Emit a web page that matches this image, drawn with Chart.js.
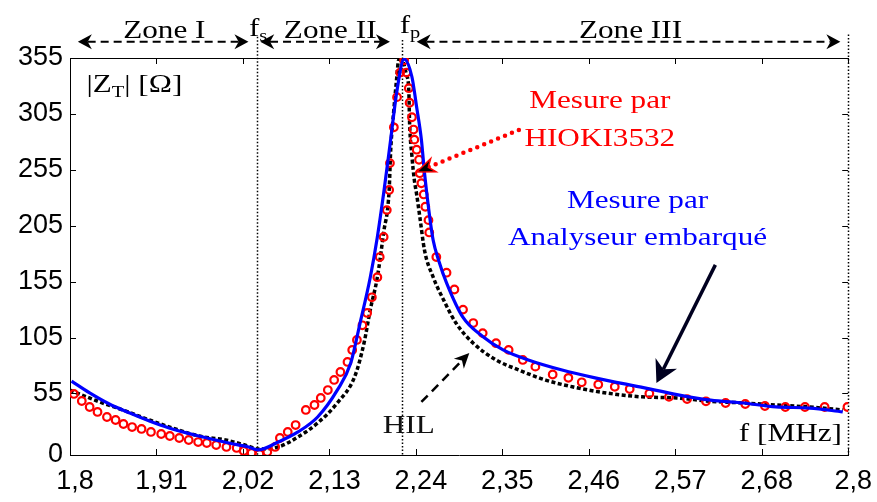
<!DOCTYPE html>
<html>
<head>
<meta charset="utf-8">
<script src="https://cdn.jsdelivr.net/npm/chart.js@4.4.0/dist/chart.umd.min.js"></script>
<style>
  html, body { margin: 0; padding: 0; background: #fff; }
  #wrap { width: 877px; height: 502px; position: relative; }
</style>
</head>
<body>
<div id="wrap"><canvas id="myChart"></canvas></div>
<script>
"use strict";

// ---- data (f in MHz, |Z_T| in ohm) ----
const xTicks = [1.8, 1.91, 2.02, 2.13, 2.24, 2.35, 2.46, 2.57, 2.68, 2.79];
const xTickLabels = ['1,8', '1,91', '2,02', '2,13', '2,24', '2,35', '2,46', '2,57', '2,68', '2,8'];
const yTicks = [0, 55, 105, 155, 205, 255, 305, 355];

const blueX = [1.802, 1.825, 1.850, 1.876, 1.901, 1.926, 1.964, 2.002, 2.027, 2.039,
    2.065, 2.090, 2.115, 2.140, 2.157, 2.169, 2.182, 2.191, 2.199, 2.207,
    2.216, 2.225, 2.235, 2.241, 2.247, 2.251, 2.257, 2.262, 2.269, 2.279,
    2.300, 2.325, 2.351, 2.383, 2.426, 2.468, 2.531, 2.572, 2.615, 2.657,
    2.698, 2.741, 2.783];
const blueY = [66, 55.5, 45.6, 37.6, 30.4, 24.2, 17, 10.7, 7.2, 4.5,
    11.6, 20.6, 34, 58, 82, 118, 159, 195, 234, 277,
    326, 354, 338, 311, 282, 252, 216, 192, 174, 154,
    123, 106, 94, 85, 76, 69, 60, 54, 49, 46.5,
    43, 42, 38.5];

const redX = [1.805, 1.815, 1.825, 1.835, 1.847, 1.858, 1.868, 1.879, 1.891, 1.903,
    1.916, 1.927, 1.939, 1.951, 1.963, 1.974, 1.986, 1.999, 2.012, 2.021,
    2.031, 2.041, 2.051, 2.061, 2.067, 2.077, 2.087, 2.100, 2.111, 2.119,
    2.128, 2.136, 2.144, 2.153, 2.159, 2.165, 2.172, 2.178, 2.184, 2.191,
    2.194, 2.199, 2.203, 2.206, 2.207, 2.212, 2.216, 2.220, 2.225, 2.228,
    2.231, 2.232, 2.235, 2.237, 2.238, 2.241, 2.244, 2.245, 2.247, 2.250,
    2.252, 2.256, 2.257, 2.266, 2.279, 2.289, 2.300, 2.313, 2.325, 2.342,
    2.358, 2.376, 2.392, 2.414, 2.434, 2.451, 2.472, 2.493, 2.512, 2.537,
    2.562, 2.585, 2.609, 2.634, 2.659, 2.684, 2.710, 2.735, 2.760, 2.789];
const redY = [54.6, 48.3, 42.9, 38.5, 34, 31.3, 27.7, 25, 23.3, 20.6,
    18.8, 17, 15.2, 13.4, 11.6, 10.7, 8.9, 7.2, 6.3, 3.6,
    1.8, 0.9, 2.7, 7.2, 15.2, 20.6, 26.8, 40.3, 44.7, 51,
    58.1, 67.1, 74.2, 83.2, 93.9, 102.9, 116, 127, 141, 159,
    177, 195, 219, 237, 261, 293, 320, 342, 353, 342,
    328, 315, 302, 291, 282, 273, 264, 252, 243, 233,
    222, 210, 199, 177, 163, 148, 130, 118, 109, 100,
    94, 85, 79, 72, 69, 65, 63, 61, 59, 55,
    52, 50, 48, 46.5, 45.6, 43.8, 42.9, 42.9, 42.9, 42.9];

const hilX = [1.800, 1.838, 1.867, 1.901, 1.930, 1.964, 1.998, 2.027, 2.039,
    2.065, 2.090, 2.115, 2.140, 2.162, 2.174, 2.182, 2.191, 2.199, 2.206,
    2.208, 2.212, 2.216, 2.218, 2.223, 2.228, 2.231, 2.232, 2.235, 2.238,
    2.241, 2.245, 2.251, 2.262, 2.275, 2.291, 2.313, 2.342, 2.371, 2.405,
    2.439, 2.477, 2.527, 2.572, 2.615, 2.657, 2.698, 2.741, 2.783];
const hilY = [58, 47.4, 40.3, 31.3, 24.2, 17, 13.4, 8, 5.4,
    7.2, 16.1, 28.6, 46.5, 69.8, 100, 130, 159, 199, 237,
    273, 309, 340, 353, 352, 340, 326, 297, 267, 246,
    233, 213, 183, 159, 139, 118, 100, 85, 76, 67,
    61, 56, 52, 51, 48, 46.5, 44.7, 42.9, 40.3];

const fs = 2.038;   // series resonance
const fp = 2.222;   // parallel resonance

const toPoints = (xs, ys) => xs.map((v, i) => ({ x: v, y: ys[i] }));

// ---- drawing helpers ----
const SERIF = '"Liberation Serif", "Times New Roman", serif';
const STRETCH = 1.2;

function rich(ctx, parts, x, y, color, align) {
    ctx.save();
    ctx.fillStyle = color;
    ctx.textBaseline = 'alphabetic';
    let w = 0;
    parts.forEach(p => { ctx.font = p[1] + 'px ' + SERIF; w += ctx.measureText(p[0]).width * STRETCH; });
    let cx = x;
    if (align === 'center') cx = x - w / 2;
    if (align === 'right') cx = x - w;
    parts.forEach(p => {
        ctx.font = p[1] + 'px ' + SERIF;
        ctx.save();
        ctx.translate(cx, y + (p[2] || 0));
        ctx.scale(STRETCH, 1);
        ctx.fillText(p[0], 0, 0);
        ctx.restore();
        cx += ctx.measureText(p[0]).width * STRETCH;
    });
    ctx.restore();
}

function head(ctx, x1, y1, x2, y2, len, wid, fill, stroke) {
    const ang = Math.atan2(y2 - y1, x2 - x1);
    ctx.save();
    ctx.translate(x2, y2);
    ctx.rotate(ang);
    ctx.setLineDash([]);
    ctx.beginPath();
    ctx.moveTo(0, 0);
    ctx.lineTo(-len, -wid / 2);
    ctx.lineTo(-len * 0.7, 0);
    ctx.lineTo(-len, wid / 2);
    ctx.closePath();
    ctx.fillStyle = fill;
    ctx.fill();
    if (stroke) { ctx.strokeStyle = stroke; ctx.lineWidth = 1.5; ctx.stroke(); }
    ctx.restore();
}

function arrow(ctx, x1, y1, x2, y2, o) {
    const ang = Math.atan2(y2 - y1, x2 - x1);
    const ex = x2 - Math.cos(ang) * o.len * 0.7;
    const ey = y2 - Math.sin(ang) * o.len * 0.7;
    let sx = x1, sy = y1;
    if (o.both) { sx = x1 + Math.cos(ang) * o.len * 0.7; sy = y1 + Math.sin(ang) * o.len * 0.7; }
    ctx.save();
    ctx.strokeStyle = o.color;
    ctx.lineWidth = o.width;
    ctx.lineCap = o.cap || 'butt';
    ctx.setLineDash(o.dash || []);
    ctx.beginPath();
    ctx.moveTo(sx, sy);
    ctx.lineTo(ex, ey);
    ctx.stroke();
    head(ctx, x1, y1, x2, y2, o.len, o.wid, o.head, o.headStroke);
    if (o.both) head(ctx, x2, y2, x1, y1, o.len, o.wid, o.head, o.headStroke);
    ctx.restore();
}

const overlay = {
    id: 'overlay',
    beforeDatasetsDraw(chart) {
        const { ctx, chartArea: a, scales: { x, y } } = chart;
        ctx.save();
        ctx.strokeStyle = '#000';
        ctx.lineWidth = 1;
        ctx.beginPath();
        xTicks.forEach(v => {
            const p = Math.round(x.getPixelForValue(v)) + 0.5;
            ctx.moveTo(p, a.bottom); ctx.lineTo(p, a.bottom - 6);
            ctx.moveTo(p, a.top); ctx.lineTo(p, a.top + 6);
        });
        yTicks.forEach(v => {
            const p = Math.round(y.getPixelForValue(v)) + 0.5;
            ctx.moveTo(a.left, p); ctx.lineTo(a.left + 6, p);
            ctx.moveTo(a.right, p); ctx.lineTo(a.right - 6, p);
        });
        ctx.moveTo(a.left, a.top + 0.5); ctx.lineTo(a.right, a.top + 0.5);
        ctx.stroke();

        // dotted markers
        ctx.setLineDash([1.5, 2]);
        ctx.lineWidth = 1.5;
        [[fs, 374], [fp, 371], [2.79, 376]].forEach(m => {
            const px = Math.round(x.getPixelForValue(m[0])) + 0.5;
            ctx.beginPath();
            ctx.moveTo(px, y.getPixelForValue(m[1]));
            ctx.lineTo(px, a.bottom);
            ctx.stroke();
        });
        ctx.restore();
    },
    afterDatasetsDraw(chart) {
        const { ctx, scales: { x, y } } = chart;
        const X = v => x.getPixelForValue(v);
        const Y = v => y.getPixelForValue(v);
        ctx.save();

        // zones
        const zone = { color: '#000', width: 2, dash: [8, 5], len: 14, wid: 15, head: '#000', both: true };
        arrow(ctx, X(1.810), Y(369.5), X(2.027), Y(369.5), zone);
        arrow(ctx, X(2.042), Y(369.5), X(2.207), Y(369.5), zone);
        arrow(ctx, X(2.241), Y(369.5), X(2.780), Y(369.5), zone);
        rich(ctx, [['Zone I', 26]], X(1.920), Y(373), '#000', 'center');
        rich(ctx, [['Zone II', 26]], X(2.131), Y(373), '#000', 'center');
        rich(ctx, [['Zone III', 26]], X(2.513), Y(373), '#000', 'center');
        rich(ctx, [['f', 26], ['s', 17, 5]], X(fs) + 1, Y(375), '#000', 'center');
        rich(ctx, [['f', 26], ['p', 17, 5]], X(fp) - 2, Y(377), '#000', 'left');

        // axis captions
        rich(ctx, [['|Z', 26], ['T', 17, 5], ['| [\u03A9]', 26]], X(1.821), Y(325), '#000', 'left');
        rich(ctx, [['f [MHz]', 26]], X(2.782), Y(12.5), '#000', 'right');

        // HIOKI label
        rich(ctx, [['Mesure par', 26]], X(2.474), Y(310), '#ff0000', 'center');
        rich(ctx, [['HIOKI3532', 26]], X(2.474), Y(276), '#ff0000', 'center');
        arrow(ctx, X(2.371), Y(290.6), X(2.241), Y(253),
            { color: '#ff0000', width: 4.5, dash: [0, 7.5], cap: 'round', len: 18, wid: 14, head: '#000', headStroke: '#ff0000' });

        // embedded analyser label
        rich(ctx, [['Mesure par', 26]], X(2.522), Y(221), '#0000ff', 'center');
        rich(ctx, [['Analyseur embarqu\u00e9', 26]], X(2.522), Y(188), '#0000ff', 'center');
        arrow(ctx, X(2.621), Y(170), X(2.546), Y(64.4),
            { color: '#000020', width: 3.5, len: 22, wid: 24, head: '#000020' });

        // HIL label
        rich(ctx, [['HIL', 26]], X(2.231), Y(19.7), '#111', 'center');
        arrow(ctx, X(2.247), Y(47.4), X(2.308), Y(91.2),
            { color: '#000', width: 2.5, dash: [9, 6], len: 15, wid: 14, head: '#000' });

        ctx.restore();
    }
};

const ctx = document.getElementById('myChart');

new Chart(ctx, {
    type: 'scatter',
    data: {
        datasets: [{
            label: 'Mesure par Analyseur embarqué',
            data: toPoints(blueX, blueY),
            showLine: true,
            borderColor: '#0000ff',
            borderWidth: 3.2,
            pointRadius: 0,
            cubicInterpolationMode: 'monotone',
            order: 1
        }, {
            label: 'Mesure par HIOKI3532',
            data: toPoints(redX, redY),
            showLine: false,
            borderColor: '#ff0000',
            backgroundColor: 'rgba(0,0,0,0)',
            pointRadius: 3.8,
            pointBorderWidth: 2.2,
            order: 2
        }, {
            label: 'HIL',
            data: toPoints(hilX, hilY),
            showLine: true,
            borderColor: '#000',
            borderWidth: 3.5,
            borderDash: [4, 2.5],
            pointRadius: 0,
            cubicInterpolationMode: 'monotone',
            order: 3
        }]
    },
    options: {
        responsive: true,
        maintainAspectRatio: false,
        animation: false,
        events: [],
        layout: { padding: { top: 58, right: 21, left: 0, bottom: 0 } },
        plugins: {
            legend: { display: false },
            tooltip: { enabled: false }
        },
        scales: {
            x: {
                type: 'linear',
                min: 1.8,
                max: 2.79,
                afterBuildTicks: scale => { scale.ticks = xTicks.map(v => ({ value: v })); },
                afterFit: scale => { scale.height = 47; },
                grid: { drawOnChartArea: false, drawTicks: false },
                border: { display: true, color: '#000', width: 1 },
                ticks: {
                    autoSkip: false,
                    maxRotation: 0,
                    padding: 10,
                    labelOffset: 5,
                    color: '#000',
                    font: { family: '"Liberation Sans", Arial, sans-serif', size: 27 },
                    callback: (value, index) => xTickLabels[index]
                }
            },
            y: {
                min: 0,
                max: 355,
                afterBuildTicks: scale => { scale.ticks = yTicks.map(v => ({ value: v })); },
                afterFit: scale => { scale.width = 70; },
                grid: { drawOnChartArea: false, drawTicks: false },
                border: { display: true, color: '#000', width: 1 },
                ticks: {
                    autoSkip: false,
                    padding: 7,
                    color: '#000',
                    font: { family: '"Liberation Sans", Arial, sans-serif', size: 27 }
                }
            }
        }
    },
    plugins: [overlay]
});
</script>
</body>
</html>
